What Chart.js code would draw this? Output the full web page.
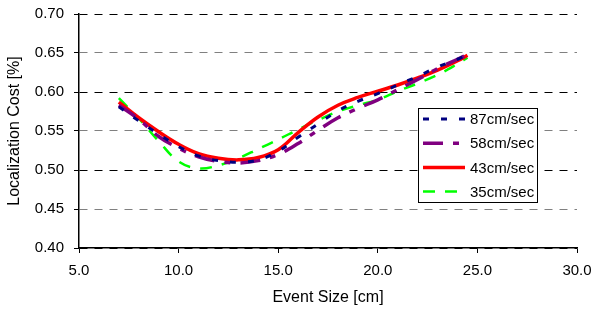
<!DOCTYPE html>
<html>
<head>
<meta charset="utf-8">
<script src="https://cdn.jsdelivr.net/npm/chart.js@4/dist/chart.umd.min.js"></script>
<style>
    html, body { margin: 0; padding: 0; background: #fff; }
    canvas { display: block; }
</style>
</head>
<body>
<canvas id="myChart" width="594" height="311"></canvas>
<script>
// event size [cm]
const eventSize = [7, 8, 9, 10, 11, 12, 13, 14, 15, 16, 17, 18, 19, 20, 21, 22, 23, 24, 24.5];

// localization cost per speed
const cost87 = [0.581, 0.563, 0.546, 0.530, 0.518, 0.512, 0.510, 0.513, 0.524, 0.542, 0.559, 0.576, 0.588, 0.598, 0.609, 0.620, 0.632, 0.642, 0.648];
const cost58 = [0.583, 0.565, 0.543, 0.528, 0.517, 0.511, 0.509, 0.512, 0.520, 0.534, 0.551, 0.567, 0.579, 0.590, 0.603, 0.616, 0.630, 0.642, 0.648];
const cost43 = [0.587, 0.567, 0.549, 0.533, 0.521, 0.515, 0.513, 0.516, 0.526, 0.548, 0.568, 0.583, 0.593, 0.601, 0.609, 0.618, 0.628, 0.640, 0.647];
const cost35 = [0.592, 0.566, 0.537, 0.511, 0.502, 0.506, 0.515, 0.527, 0.539, 0.552, 0.564, 0.575, 0.583, 0.590, 0.601, 0.611, 0.622, 0.636, 0.644];

const seriesNames = ['87cm/sec', '58cm/sec', '43cm/sec', '35cm/sec'];

const xTicks = [5, 10, 15, 20, 25, 30];
const yTicks = [0.40, 0.45, 0.50, 0.55, 0.60, 0.65, 0.70];

const font = "Arial, 'Liberation Sans', sans-serif";

function toPoints(values) {
    return values.map((v, i) => ({ x: eventSize[i], y: v }));
}

// legend box drawn inside the plot, like the original
const boxLegend = {
    id: 'boxLegend',
    afterDraw(chart) {
        const ctx = chart.ctx;
        const area = chart.chartArea;
        const left = area.right - 159;
        const top = area.top + 94;
        const w = 119, h = 94;
        ctx.save();
        ctx.fillStyle = '#fff';
        ctx.fillRect(left, top, w, h);
        ctx.strokeStyle = '#000';
        ctx.lineWidth = 1;
        ctx.setLineDash([]);
        ctx.strokeRect(left + 0.5, top + 0.5, w, h);

        ctx.font = '15px ' + font;
        ctx.textBaseline = 'middle';
        chart.data.datasets.forEach((ds, i) => {
            const y = top + 11 + i * 24.2;
            ctx.beginPath();
            ctx.strokeStyle = ds.borderColor;
            ctx.lineWidth = ds.borderWidth;
            ctx.setLineDash(ds.borderDash || []);
            ctx.moveTo(left + 5, y);
            ctx.lineTo(left + 47, y);
            ctx.stroke();
            ctx.setLineDash([]);
            ctx.fillStyle = '#000';
            ctx.fillText(ds.label, left + 52, y + 1);
        });
        ctx.restore();
    }
};

let config = {
    type: 'line',
    data: {
        datasets: [{
                label: seriesNames[0],
                data: toPoints(cost87),
                borderColor: '#000080',
                borderWidth: 3,
                borderDash: [6, 12]
            }, {
                label: seriesNames[1],
                data: toPoints(cost58),
                borderColor: '#800080',
                borderWidth: 3.5,
                borderDash: [20, 10, 6, 10]
            }, {
                label: seriesNames[2],
                data: toPoints(cost43),
                borderColor: '#ff0000',
                borderWidth: 3.5,
                borderDash: []
            }, {
                label: seriesNames[3],
                data: toPoints(cost35),
                borderColor: '#00ff00',
                borderWidth: 2.5,
                borderDash: [12, 10]
        }]
    },
    options: {
        responsive: false,
        animation: false,
        layout: {
            padding: { top: 14, right: 17, left: 0, bottom: 0 }
        },
        elements: {
            point: { radius: 0 },
            line: { tension: 0.4, fill: false }
        },
        plugins: {
            legend: { display: false },
            tooltip: { enabled: false }
        },
        scales: {
            x: {
                type: 'linear',
                min: 5,
                max: 30,
                afterBuildTicks: (scale) => {
                    scale.ticks = xTicks.map((v) => ({ value: v }));
                },
                afterFit: (scale) => {
                    scale.height = 63;
                    scale.paddingLeft = 0;
                    scale.paddingRight = 0;
                },
                ticks: {
                    color: '#000',
                    padding: 9,
                    font: { family: font, size: 15 },
                    callback: (v) => Number(v).toFixed(1)
                },
                grid: {
                    drawOnChartArea: false,
                    drawTicks: true,
                    tickLength: 5,
                    tickColor: '#000'
                },
                border: { color: '#000', width: 1.5 },
                title: {
                    display: true,
                    text: 'Event Size [cm]',
                    color: '#000',
                    font: { family: font, size: 16 },
                    padding: { top: 0, bottom: 4 }
                }
            },
            y: {
                min: 0.4,
                max: 0.7,
                afterBuildTicks: (scale) => {
                    scale.ticks = yTicks.map((v) => ({ value: v }));
                },
                afterFit: (scale) => {
                    scale.width = 79;
                    scale.paddingTop = 0;
                    scale.paddingBottom = 0;
                },
                ticks: {
                    color: '#000',
                    padding: 10,
                    font: { family: font, size: 15 },
                    callback: (v) => Number(v).toFixed(2)
                },
                grid: {
                    color: (c) => (c.index % 2 === 0 ? '#000' : '#808080'),
                    lineWidth: 1,
                    tickLength: 5,
                    tickColor: '#000',
                    tickBorderDash: []
                },
                border: { color: '#000', width: 1.5, dash: [8, 7] },
                title: {
                    display: true,
                    text: 'Localization Cost [%]',
                    color: '#000',
                    font: { family: font, size: 16 },
                    padding: { top: 5, bottom: 0 }
                }
            }
        }
    },
    plugins: [boxLegend]
};

let ctx = document.getElementById('myChart').getContext('2d');

var myChart = new Chart(ctx, config);
</script>
</body>
</html>
